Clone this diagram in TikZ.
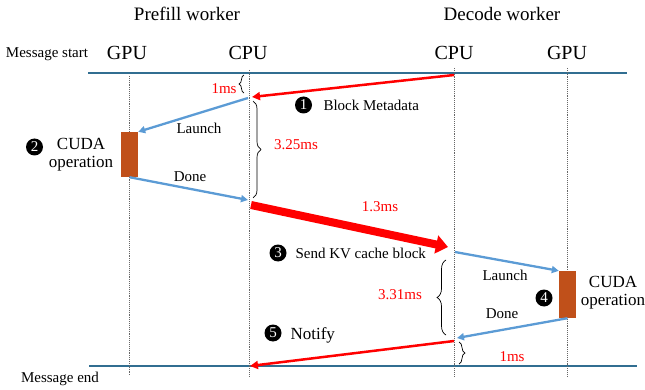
\documentclass[tikz,border=0pt]{standalone}
\usepackage{fontspec}
\setmainfont{Liberation Serif}
\usetikzlibrary{arrows.meta,decorations.pathreplacing}
\definecolor{lblue}{RGB}{91,155,213}
\definecolor{lineblue}{RGB}{49,110,145}
\definecolor{orng}{RGB}{192,80,26}
\newcommand{\fs}[1]{\fontsize{#1}{#1}\selectfont}
\begin{document}
\begin{tikzpicture}[x=1pt,y=-1pt,
  life/.style={densely dotted, black!60, line width=0.9pt},
  bar/.style={lineblue, line width=1.5pt},
  bluemsg/.style={lblue, line width=2.3pt, -{Triangle[length=7pt,width=7pt]}},
  redmsg/.style={red, line width=2.5pt, -{Triangle[length=8pt,width=8pt]}},
  bigred/.style={red, line width=8pt, -{Triangle[length=12pt,width=18pt]}},
  title/.style={font=\fs{19}},
  unit/.style={font=\fs{20}},
  lbl/.style={font=\fs{15}},
  biglbl/.style={font=\fs{17}, align=center},
  tm/.style={text=red, font=\fs{15}},
  num/.style={circle, fill=black, text=white, inner sep=0pt, minimum size=17pt, font=\fs{15}},
  brc/.style={decorate, decoration={brace, amplitude=#1}, line width=0.7pt},
  cuda/.style={fill=orng, minimum width=17pt, minimum height=46pt, inner sep=0pt}
]
\useasboundingbox (0,0) rectangle (645,390);

% titles
\node[title] (tpf) at (187,14) {Prefill worker};
\node[title] (tdc) at (502,14) {Decode worker};
\node[unit] (ugp) at (127,53) {GPU};
\node[unit] (ucp) at (248,53) {CPU};
\node[unit] (ucd) at (454,53) {CPU};
\node[unit] (ugd) at (567,53) {GPU};
\node[lbl] (ms) at (47,54) {Message start};
\node[lbl] (me) at (60,379) {Message end};

% horizontal bars
\coordinate (ts) at (88,73);
\coordinate (te) at (627,73);
\coordinate (bs) at (89,366);
\coordinate (be) at (637,366);
\draw[bar] (ts) -- (te);
\draw[bar] (bs) -- (be);

% lifelines
\coordinate (l1a) at (129,76); \coordinate (l1b) at (129,376);
\coordinate (l2a) at (249,70); \coordinate (l2b) at (249,377);
\coordinate (l3a) at (454,68); \coordinate (l3b) at (454,376);
\coordinate (l4a) at (567,68); \coordinate (l4b) at (567,376);
\draw[life] (l1a) -- (l1b);
\draw[life] (l2a) -- (l2b);
\draw[life] (l3a) -- (l3b);
\draw[life] (l4a) -- (l4b);

% CUDA blocks
\node[cuda, minimum height=45pt] (k1) at (129.5,154.5) {};
\node[cuda, minimum height=47pt] (k2) at (567.5,294.5) {};

% message points
\coordinate (p1) at (454,75);
\coordinate (p2) at (252,97);
\coordinate (p3) at (248,98);
\coordinate (p4) at (248,200);
\coordinate (p5) at (251,205);
\coordinate (p6) at (448,247);
\coordinate (p7) at (455,252);
\coordinate (p8) at (457,338);
\coordinate (p9) at (454,341);
\coordinate (p10) at (250,366);

% messages
\draw[redmsg] (p1) -- (p2);
\draw[bluemsg] (p3) -- (k1.north east);
\draw[bluemsg] (k1.south) -- (p4);
\draw[bigred] (p5) -- (p6);
\draw[bluemsg] (p7) -- (k2.north west);
\draw[bluemsg] (k2.south) -- (p8);
\draw[redmsg] (p9) -- (p10);

% braces
\coordinate (b1a) at (244,93); \coordinate (b1b) at (244,75);
\draw[brc=5pt] (b1a) -- (b1b);
\coordinate (b2a) at (253,101); \coordinate (b2b) at (253,198);
\draw[brc=8pt] (b2a) -- (b2b);
\coordinate (b3a) at (446,335); \coordinate (b3b) at (446,260);
\draw[brc=9pt] (b3a) -- (b3b);
\coordinate (b4a) at (459,342); \coordinate (b4b) at (459,364);
\draw[brc=6pt] (b4a) -- (b4b);

% timing labels
\node[tm] (t1) at (224,89) {1ms};
\node[tm] (t2) at (296,145) {3.25ms};
\node[tm] (t3) at (380,207) {1.3ms};
\node[tm] (t4) at (400,295) {3.31ms};
\node[tm] (t5) at (512,357) {1ms};

% labels
\node[lbl] (la1) at (199,128) {Launch};
\node[lbl] (do1) at (190,177) {Done};
\node[lbl] (la2) at (505,275) {Launch};
\node[lbl] (do2) at (502,314) {Done};

\node[num] (n1) at (303.5,105) {1};
\node[lbl, anchor=west] (s1) at (320,105) {Block Metadata};
\node[num] (n2) at (34.5,147) {2};
\node[biglbl] (c1) at (81,155) {CUDA\\[1pt]operation};
\node[num] (n3) at (278,253) {3};
\node[lbl, anchor=west] (s3) at (292,253) {Send KV cache block};
\node[num] (n4) at (544,298) {4};
\node[biglbl] (c2) at (613,293) {CUDA\\[1pt]operation};
\node[num] (n5) at (273,333) {5};
\node[biglbl, anchor=west] (s5) at (287,335) {Notify};
\end{tikzpicture}
\end{document}
